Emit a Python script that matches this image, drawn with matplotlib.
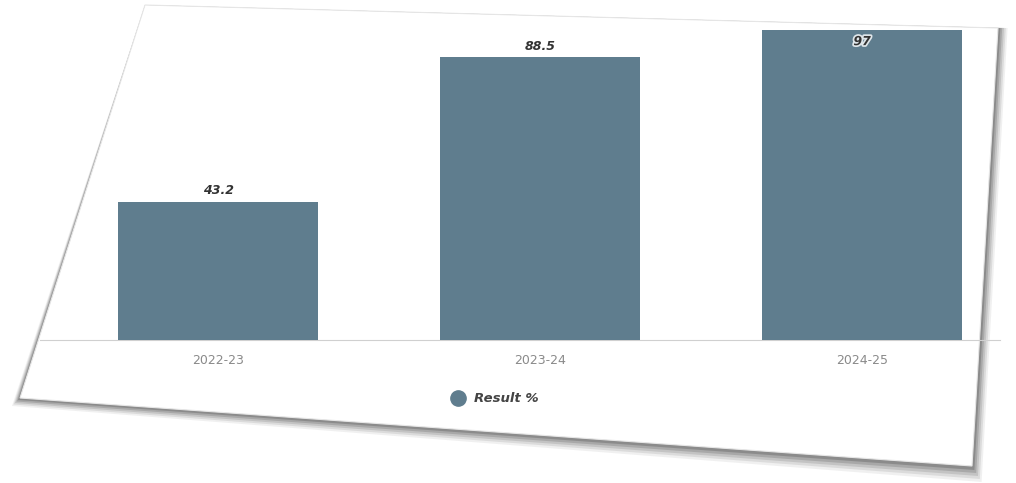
import matplotlib
matplotlib.use("Agg")
import matplotlib.pyplot as plt
from matplotlib.patches import Polygon
import matplotlib.patheffects as pe

categories = ["2022-23", "2023-24", "2024-25"]
values = [43.2, 88.5, 97]
series_name = "Result %"

W, H = 1016, 483
fig = plt.figure(figsize=(W / 100, H / 100), dpi=100)
fig.patch.set_facecolor("white")

def fc(pts):
    return [(x / W, 1 - y / H) for x, y in pts]

# soft card shadow (layered)
for off, a in [(16, 0.08), (13, 0.12), (10, 0.16), (7, 0.22), (4, 0.3)]:
    sh = Polygon(fc([(20 - off * 0.5, 398 + off * 0.5), (145, 5), (998 + off * 0.6, 28),
                     (972 + off * 0.6, 466 + off)]),
                 closed=True, transform=fig.transFigure, facecolor="#4a4a4a",
                 edgecolor="none", alpha=a, zorder=0)
    fig.patches.append(sh)
card = Polygon(fc([(20, 398), (145, 5), (998, 28), (972, 466)]),
               closed=True, transform=fig.transFigure, facecolor="white",
               edgecolor="#e6e6e6", lw=0.8, zorder=1)
fig.patches.append(card)

ax = fig.add_axes([40 / W, 1 - 340 / H, 960 / W, 332 / H])
ax.set_facecolor("none")
ax.set_zorder(2)
color = "#5f7d8e"
x = range(len(categories))
bars = ax.bar(x, values, width=0.62, color=color, label=series_name, zorder=3)
ax.set_ylim(0, 104)
ax.set_xlim(-0.553, 2.428)
ax.set_yticks([])
ax.set_xticks(list(x))
ax.set_xticklabels(categories, color="#8a8a8a", fontsize=9)
ax.tick_params(axis="x", length=0, pad=10)
for s in ["top", "right", "left"]:
    ax.spines[s].set_visible(False)
ax.spines["bottom"].set_color("#d0d0d0")

for b, v in zip(bars, values):
    lbl = f"{v:g}"
    if v > 92:
        t = ax.text(b.get_x() + b.get_width() / 2, v - 1.5, lbl, ha="center", va="top",
                    fontsize=9, fontweight="bold", fontstyle="italic", color="#333333", zorder=4)
        t.set_path_effects([pe.withStroke(linewidth=2.5, foreground="#dfe6ea")])
    else:
        ax.text(b.get_x() + b.get_width() / 2, v + 1.5, lbl, ha="center", va="bottom",
                fontsize=9, fontweight="bold", fontstyle="italic", color="#333333", zorder=4)

leg_ax = fig.add_axes([0, 0, 1, 1])
leg_ax.set_axis_off()
leg_ax.set_zorder(3)
leg_ax.set_xlim(0, W)
leg_ax.set_ylim(H, 0)
leg_ax.plot([458], [398], marker="o", markersize=11, color=color, linestyle="none")
leg_ax.text(474, 399, series_name, ha="left", va="center", fontsize=9.5,
            fontweight="bold", fontstyle="italic", color="#444444")

fig.savefig("out.png", dpi=100)
